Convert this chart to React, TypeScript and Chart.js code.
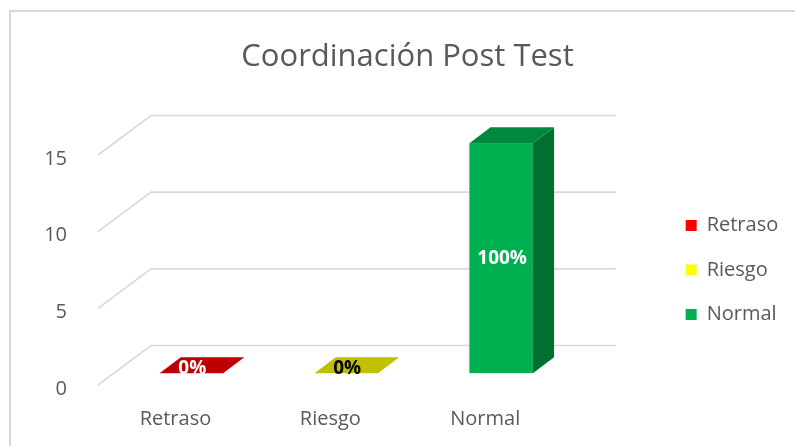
import React, { useEffect, useRef } from 'react';
import { Chart, registerables } from 'chart.js';

Chart.register(...registerables);

// ---- data ----
const chartTitle = 'Coordinación Post Test';
const categories = ['Retraso', 'Riesgo', 'Normal'];
const values = [0, 0, 15];
const percentLabels = ['0%', '0%', '100%'];
const yTickValues = [0, 5, 10, 15];
const legendColors = ['#FF0000', '#FFFF00', '#00B050'];
const frontColors = ['#FF0000', '#FFFF00', '#00B050'];
const topColors = ['#C00000', '#C0C000', '#00893E'];
const sideColors = ['#A00000', '#A0A000', '#007030'];
const labelColors = ['#FFFFFF', '#000000', '#FFFFFF'];

const FONT = "'Open Sans', 'Noto Sans', sans-serif";
const TEXT = '#595959';
const GRID = '#D9D9D9';
const DEPTH_X = 53;
const DEPTH_Y = -39.5;
const F0 = 0.3;
const F1 = 0.7;

function barGeom(bar: any) {
  const p = bar.getProps(['x', 'y', 'base', 'width'], true);
  const ox = DEPTH_X * F0;
  const oy = DEPTH_Y * F0;
  return {
    l: p.x - p.width / 2 + ox,
    r: p.x + p.width / 2 + ox,
    t: Math.min(p.y, p.base) + oy,
    b: Math.max(p.y, p.base) + oy,
    dx: DEPTH_X * (F1 - F0),
    dy: DEPTH_Y * (F1 - F0),
  };
}

const threeD = {
  id: 'threeD',
  beforeDatasetsDraw(chart: any) {
    const { ctx, chartArea, scales } = chart;
    const y = scales.y;
    ctx.save();
    ctx.strokeStyle = GRID;
    ctx.lineWidth = 1.6;
    for (const t of yTickValues) {
      const py = y.getPixelForValue(t);
      ctx.beginPath();
      ctx.moveTo(chartArea.left, py);
      ctx.lineTo(chartArea.left + DEPTH_X, py + DEPTH_Y);
      ctx.lineTo(chartArea.right + DEPTH_X, py + DEPTH_Y);
      ctx.stroke();
    }
    const meta = chart.getDatasetMeta(0);
    meta.data.forEach((bar: any, i: number) => {
      const g = barGeom(bar);
      const h = g.b - g.t;
      if (h > 0.5) {
        ctx.fillStyle = frontColors[i];
        ctx.fillRect(g.l, g.t, g.r - g.l, h);
        ctx.fillStyle = sideColors[i];
        ctx.beginPath();
        ctx.moveTo(g.r, g.t);
        ctx.lineTo(g.r + g.dx, g.t + g.dy);
        ctx.lineTo(g.r + g.dx, g.b + g.dy);
        ctx.lineTo(g.r, g.b);
        ctx.closePath();
        ctx.fill();
      }
      ctx.fillStyle = topColors[i];
      ctx.beginPath();
      ctx.moveTo(g.l, g.t);
      ctx.lineTo(g.r, g.t);
      ctx.lineTo(g.r + g.dx, g.t + g.dy);
      ctx.lineTo(g.l + g.dx, g.t + g.dy);
      ctx.closePath();
      ctx.fill();
    });
    ctx.restore();
    return false;
  },
  afterDraw(chart: any) {
    const { ctx } = chart;
    const meta = chart.getDatasetMeta(0);
    ctx.save();
    ctx.font = `bold 19px ${FONT}`;
    ctx.textAlign = 'center';
    ctx.textBaseline = 'middle';
    meta.data.forEach((bar: any, i: number) => {
      const g = barGeom(bar);
      const mid = (g.t + g.b) / 2;
      const cy = Math.min(mid, g.b - 5);
      ctx.fillStyle = labelColors[i];
      ctx.fillText(percentLabels[i], (g.l + g.r) / 2 + 1, cy);
    });
    ctx.restore();
  },
};

export default function App() {
  const ref = useRef<HTMLCanvasElement | null>(null);
  useEffect(() => {
    if (!ref.current) return;
    const chart = new Chart(ref.current, {
      type: 'bar',
      data: {
        labels: categories,
        datasets: [
          {
            label: chartTitle,
            data: values,
            backgroundColor: frontColors,
            barPercentage: 0.41,
            categoryPercentage: 1,
          },
        ],
      },
      options: {
        animation: false,
        responsive: false,
        devicePixelRatio: 1,
        layout: { padding: { left: 27, right: 7, top: 0, bottom: 0 } },
        plugins: {
          title: {
            display: true,
            text: chartTitle,
            color: TEXT,
            font: { family: FONT, size: 31, weight: 'normal' },
            padding: { top: 38.4, bottom: 79.4 },
          },
          legend: {
            display: true,
            position: 'right',
            fullSize: false,
            labels: {
              boxWidth: 11,
              boxHeight: 11,
              padding: 24.5,
              color: TEXT,
              font: { family: FONT, size: 20 },
              generateLabels: () =>
                categories.map((c, i) => ({
                  text: c,
                  fillStyle: legendColors[i],
                  strokeStyle: legendColors[i],
                  lineWidth: 0,
                  hidden: false,
                  index: i,
                  fontColor: TEXT,
                })),
            },
            onClick: () => {},
          },
          tooltip: { enabled: false },
        },
        scales: {
          x: {
            grid: { display: false },
            border: { display: false },
            ticks: { padding: 14, color: TEXT, font: { family: FONT, size: 20 } },
            afterFit: (s: any) => {
              s.height = 61;
            },
          },
          y: {
            min: 0,
            max: 15,
            grid: { display: false },
            border: { display: false },
            ticks: { stepSize: 5, padding: 23, labelOffset: 4, color: TEXT, font: { family: FONT, size: 20 } },
            afterFit: (s: any) => {
              s.width = 71;
            },
          },
          y2: {
            axis: 'y',
            position: 'right',
            display: true,
            grid: { display: false },
            border: { display: false },
            ticks: { display: false },
            afterFit: (s: any) => {
              s.width = 98.5;
            },
          },
        },
      },
      plugins: [threeD],
    } as any);
    return () => chart.destroy();
  }, []);

  return (
    <div style={{ position: 'fixed', left: 0, top: 0, width: 795, height: 446, background: '#fff', overflow: 'hidden' }}>
      <div
        style={{
          position: 'absolute',
          left: 9,
          top: 10,
          width: 820,
          height: 460,
          border: '2px solid #D9D9D9',
          boxSizing: 'border-box',
        }}
      />
      <canvas ref={ref} width={795} height={446} style={{ position: 'absolute', left: 0, top: 0 }} />
    </div>
  );
}
